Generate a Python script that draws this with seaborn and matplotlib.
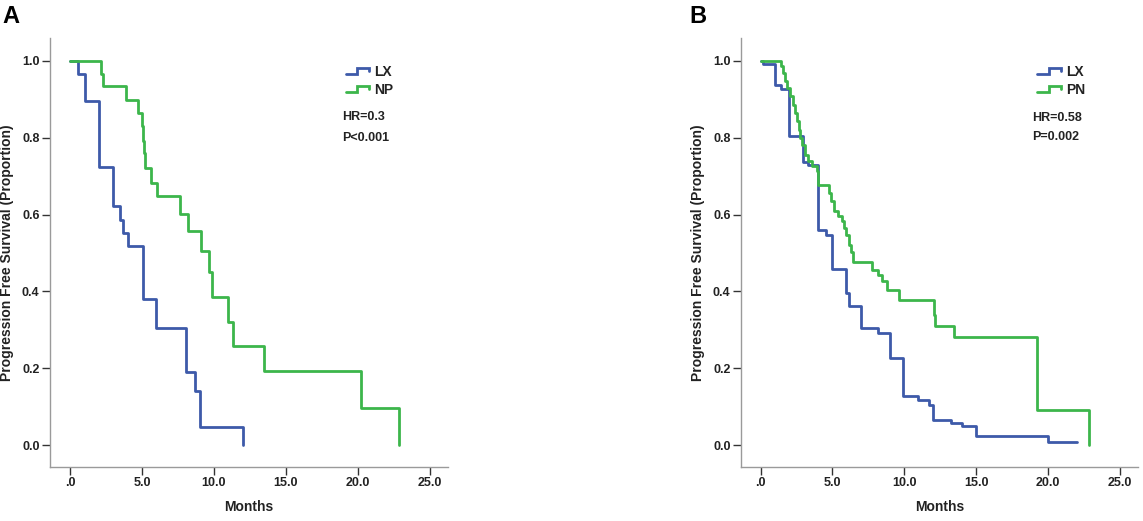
import numpy as np
import pandas as pd
import matplotlib
matplotlib.use("Agg")
import matplotlib.pyplot as plt
import seaborn as sns
from matplotlib.legend_handler import HandlerBase
from matplotlib.lines import Line2D

# ---------------- data ----------------
a_lx_t = [0, 0.58, 1.05, 2.03, 2.99, 3.46, 3.67, 4.0, 5.07, 6.0, 8.03, 8.69, 9.04, 12.0]
a_lx_s = [1.0, 0.966, 0.895, 0.724, 0.621, 0.587, 0.552, 0.518, 0.380, 0.305, 0.19, 0.142, 0.048, 0.0]

a_np_t = [0, 2.17, 2.3, 3.92, 4.72, 5.02, 5.07, 5.12, 5.24, 5.65, 6.07, 7.68, 8.17, 9.11, 9.69,
          9.9, 10.96, 11.35, 13.48, 20.25, 22.85]
a_np_s = [1.0, 0.966, 0.933, 0.898, 0.864, 0.83, 0.79, 0.76, 0.72, 0.683, 0.647, 0.602, 0.556,
          0.506, 0.45, 0.386, 0.321, 0.259, 0.193, 0.097, 0.0]

b_lx_t = [0, 0.14, 0.99, 1.39, 1.99, 2.96, 3.3, 4.0, 4.58, 5.0, 5.92, 6.15, 7.0, 8.17, 8.98, 9.9,
          10.95, 11.7, 12.0, 13.24, 14.03, 14.98, 20.0, 22.03]
b_lx_s = [1.0, 0.991, 0.937, 0.927, 0.805, 0.737, 0.728, 0.56, 0.548, 0.458, 0.395, 0.363, 0.305,
          0.293, 0.226, 0.128, 0.117, 0.104, 0.067, 0.059, 0.05, 0.024, 0.009, 0.009]

b_pn_t = [0, 1.42, 1.55, 1.69, 1.85, 2.03, 2.22, 2.38, 2.5, 2.64, 2.73, 2.85, 3.08, 3.31, 3.54,
          3.89, 4.0, 4.76, 4.93, 5.09, 5.39, 5.63, 5.78, 5.97, 6.15, 6.32, 6.43, 7.78, 8.17, 8.47,
          8.79, 9.63, 12.06, 12.15, 13.45, 19.25, 22.85]
b_pn_s = [1.0, 0.985, 0.968, 0.948, 0.929, 0.907, 0.885, 0.864, 0.842, 0.82, 0.799, 0.781, 0.755,
          0.738, 0.725, 0.712, 0.677, 0.655, 0.634, 0.608, 0.595, 0.582, 0.564, 0.547, 0.521,
          0.503, 0.477, 0.456, 0.443, 0.427, 0.404, 0.378, 0.339, 0.311, 0.282, 0.091, 0.0]

x_ticks = [0, 5, 10, 15, 20, 25]
x_tick_labels = [".0", "5.0", "10.0", "15.0", "20.0", "25.0"]
y_ticks = [0.0, 0.2, 0.4, 0.6, 0.8, 1.0]
y_tick_labels = ["0.0", "0.2", "0.4", "0.6", "0.8", "1.0"]

panel_a_groups = ["LX", "NP"]
panel_b_groups = ["LX", "PN"]
panel_a_stats = ["HR=0.3", "P<0.001"]
panel_b_stats = ["HR=0.58", "P=0.002"]

BLUE = "#3d5aa9"
GREEN = "#3cb64b"

# ---------------- style ----------------
sns.set_style("white")
plt.rcParams["font.family"] = ["Liberation Sans", "DejaVu Sans"]
plt.rcParams["font.weight"] = "bold"

W, H = 1143, 521
fig = plt.figure(figsize=(W / 100, H / 100), dpi=100)


def fx(px):
    return px / W


def fy(py):
    return 1 - py / H


class StepHandler(HandlerBase):
    def create_artists(self, legend, orig_handle, xdescent, ydescent, width, height,
                       fontsize, trans):
        xs = np.array([0.0, 0.45, 0.45, 0.92, 0.92]) * width - xdescent
        ys = np.array([0.2, 0.2, 0.85, 0.85, 0.5]) * height - ydescent
        ln = Line2D(xs, ys, color=orig_handle.get_color(), lw=orig_handle.get_linewidth(),
                    solid_joinstyle="miter")
        ln.set_transform(trans)
        return [ln]


def make_panel(left_px, right_px, series, groups, stats, letter, letter_x, leg_x, stat_x,
               stat_ys):
    top_px, bot_px = 38, 466.7
    ax = fig.add_axes([fx(left_px), fy(bot_px), fx(right_px - left_px), (bot_px - top_px) / H])
    for (t, s), col, g in zip(series, [BLUE, GREEN], groups):
        df = pd.DataFrame({"t": t, "s": s})
        sns.lineplot(data=df, x="t", y="s", ax=ax, color=col, lw=2.0, estimator=None,
                     sort=False, drawstyle="steps-post", label=g)
    ppm = 14.37
    ax.set_xlim(-(20 / ppm if left_px < 700 else 19.7 / ppm), 25 + 18.7 / ppm)
    ax.set_ylim(-0.0556, 1.059)
    ax.set_xticks(x_ticks)
    ax.set_xticklabels(x_tick_labels)
    ax.set_yticks(y_ticks)
    ax.set_yticklabels(y_tick_labels)
    for sp in ["top", "right"]:
        ax.spines[sp].set_visible(False)
    for sp in ["left", "bottom"]:
        ax.spines[sp].set_color("#9a9a9a")
        ax.spines[sp].set_linewidth(1.0)
    ax.tick_params(axis="both", which="major", direction="out", length=5.5, width=1.0,
                   color="#333333", labelsize=9, pad=2, left=True, bottom=True)
    for lab in ax.get_xticklabels() + ax.get_yticklabels():
        lab.set_fontweight("bold")
        lab.set_color("#222222")
    ax.set_xlabel("Months", fontsize=10, fontweight="bold", labelpad=8, color="#222222")
    ax.set_ylabel("Progression Free Survival (Proportion)", fontsize=10, fontweight="bold",
                  labelpad=6, color="#222222")
    handles = ax.lines[:2]
    leg = ax.legend(handles=handles, labels=groups, handler_map={Line2D: StepHandler()},
                    loc="upper left", bbox_to_anchor=(fx(leg_x), fy(65)),
                    bbox_transform=fig.transFigure, frameon=False, borderpad=0,
                    borderaxespad=0, handlelength=1.85, handletextpad=0.2,
                    labelspacing=0.3, prop={"weight": "bold", "size": 10})
    for txt in leg.get_texts():
        txt.set_color("#222222")
    for s_text, sy in zip(stats, stat_ys):
        fig.text(fx(stat_x), fy(sy), s_text, fontsize=9, fontweight="bold", ha="left",
                 va="center", color="#222222")
    fig.text(fx(letter_x), fy(16.5), letter, fontsize=17, fontweight="bold", ha="center",
             va="center", color="black")
    return ax


make_panel(50, 448.3, [(a_lx_t, a_lx_s), (a_np_t, a_np_s)], panel_a_groups, panel_a_stats,
           "A", 11, 345.7, 341.7, [117.3, 138.3])
make_panel(741, 1138.3, [(b_lx_t, b_lx_s), (b_pn_t, b_pn_s)], panel_b_groups, panel_b_stats,
           "B", 697.5, 1037.3, 1031.7, [118.3, 136.7])

fig.savefig("out.png", dpi=100)
